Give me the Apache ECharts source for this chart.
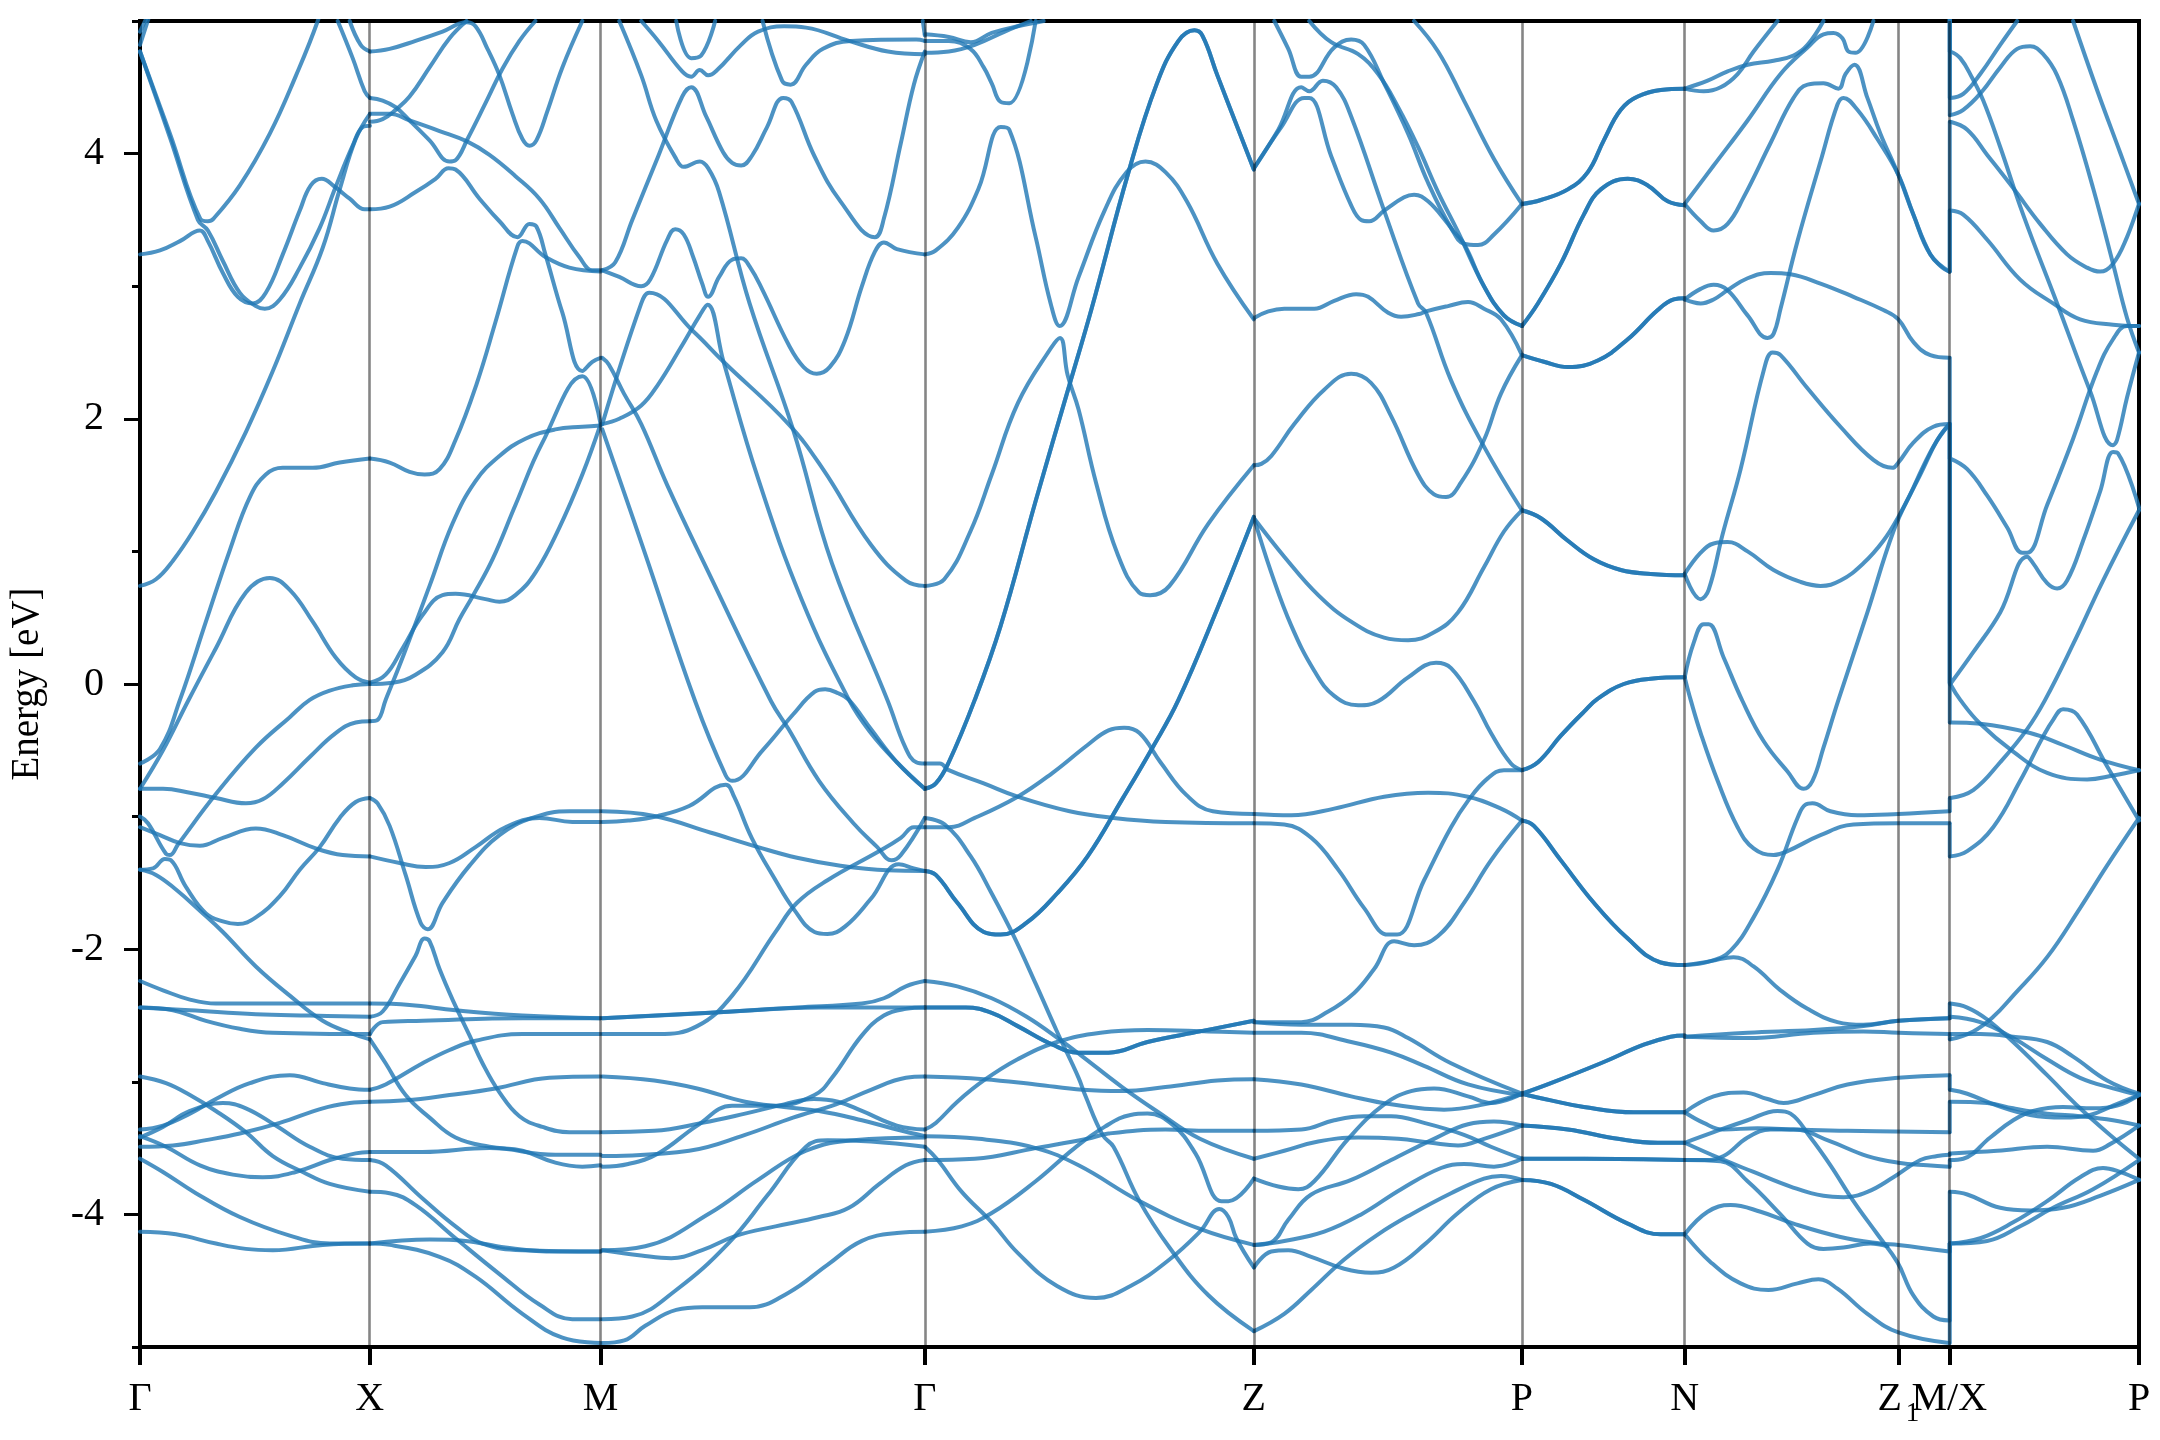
<!DOCTYPE html>
<html><head><meta charset="utf-8">
<style>html,body{margin:0;padding:0;background:#fff}#c{width:2160px;height:1440px}</style>
<script src="https://cdn.jsdelivr.net/npm/echarts@6/dist/echarts.min.js"></script>
</head><body><div id="c"></div>
<script>
const kTicks=[0,230,461.3,786,1115.5,1384,1547,1761,1812,2002];
const kLabels=['Γ','X','M','Γ','Z','P','N','{z|Z}{s|1}','M/X','P'];
const energyLabels=[-4,-2,0,2,4];
const energyMinor=[-5,-3,-1,1,3,5];
const B=(k,e)=>k.map((x,i)=>[x,e[i]]);

const bandsGX=[
B([0,9],[4.82,5.03]),
B([0,7],[4.92,5.03]),
B([0,30,60.3,68,73.7,100,130,156.3,178,185],[4.77,4.15,3.51,3.49,3.51,3.76,4.15,4.59,5,5.2]),
B([0,20,40,60,68,83,98,113,126,143,160,171,182,195,210,225,230.3],[3.24,3.27,3.34,3.42,3.34,3.10,2.92,2.87,2.95,3.24,3.57,3.76,3.81,3.75,3.66,3.58,3.58]),
B([0,30,58,68,83,100,116,125,140,160,180,196,213,223,230.3],[4.77,4.12,3.50,3.42,3.19,2.95,2.85,2.83,2.90,3.14,3.44,3.75,4.06,4.20,4.21]),
B([0,16,33,53,76,106,133,160,183,200,216,230.3],[0.74,0.79,0.93,1.15,1.45,1.90,2.36,2.87,3.29,3.73,4.11,4.30]),
B([0,20,40,66,90,110,126,143,173,200,230.3],[-0.60,-0.49,-0.12,0.47,1.01,1.41,1.58,1.63,1.63,1.67,1.70]),
B([0,23,48,76,106,130,150,173,196,216,230.3],[-0.79,-0.50,-0.13,0.27,0.69,0.80,0.71,0.47,0.20,0.05,0.01]),
B([0,23,50,76,106,123,143,170,196,216,230.3],[-0.79,-0.79,-0.82,-0.86,-0.90,-0.87,-0.75,-0.55,-0.37,-0.29,-0.28]),
B([0,8,26,30,38,76,116,150,170,190,213,230.3],[-1.00,-1.05,-1.28,-1.29,-1.21,-0.83,-0.48,-0.25,-0.12,-0.05,-0.01,0]),
B([0,20,40,60,83,116,143,176,203,230.3],[-1.08,-1.14,-1.20,-1.22,-1.16,-1.09,-1.14,-1.24,-1.29,-1.30]),
B([0,13,25,31,46,66,83,98,116,140,160,180,200,216,230.3],[-1.40,-1.39,-1.32,-1.33,-1.53,-1.73,-1.79,-1.81,-1.76,-1.60,-1.40,-1.23,-1.01,-0.89,-0.86]),
B([0,16,36,60,83,116,150,183,210,230.3],[-1.40,-1.44,-1.55,-1.71,-1.87,-2.13,-2.35,-2.54,-2.63,-2.68]),
B([0,23,50,76,230.3],[-2.24,-2.31,-2.38,-2.41,-2.41]),
B([0,50,116,170,230.3],[-2.44,-2.46,-2.49,-2.50,-2.51]),
B([0,33,66,100,133,230.3],[-2.44,-2.46,-2.54,-2.60,-2.63,-2.64]),
B([0,26,50,76,106,133,163,190,230.3],[-2.96,-3.01,-3.10,-3.22,-3.38,-3.56,-3.68,-3.77,-3.83]),
B([0,23,50,76,110,150,183,210,230.3],[-3.36,-3.33,-3.24,-3.13,-3.01,-2.95,-3.01,-3.05,-3.06]),
B([0,23,50,83,106,136,170,203,230.3],[-3.42,-3.34,-3.22,-3.16,-3.20,-3.33,-3.49,-3.58,-3.59]),
B([0,33,66,100,140,183,210,230.3],[-3.49,-3.48,-3.44,-3.39,-3.31,-3.20,-3.16,-3.15]),
B([0,26,60,93,123,156,190,216,230.3],[-3.41,-3.49,-3.63,-3.70,-3.72,-3.68,-3.59,-3.54,-3.53]),
B([0,23,56,100,150,190,230.3],[-3.58,-3.68,-3.84,-4.02,-4.16,-4.22,-4.22]),
B([0,36,76,106,133,183,230.3],[-4.13,-4.15,-4.22,-4.26,-4.27,-4.23,-4.22]),
B([198,213,225,230.3],[5.0,4.72,4.47,4.42]),
B([210,221,230.3],[5.0,4.82,4.77])
];

const bandsXM=[
B([230.3,250,276,303,327,336,348,360,373,383,390,397,408,423,443],[4.77,4.79,4.85,4.92,4.99,4.96,4.79,4.59,4.30,4.11,4.06,4.10,4.32,4.65,5]),
B([230.3,243,256,270,290,310,316,328,346,363,380,396],[4.42,4.40,4.35,4.25,4.10,3.94,3.95,4.11,4.38,4.64,4.85,5]),
B([230.3,243,256,270,290,310,327],[4.24,4.26,4.33,4.43,4.65,4.87,5]),
B([230.3,250,270,300,328,350,376,400,420,440,453,461.3],[4.30,4.30,4.25,4.17,4.09,3.99,3.83,3.66,3.44,3.22,3.12,3.12]),
B([230.3,250,276,296,309,316,340,360,378,390,397,406,423,443,453,461.3],[3.58,3.60,3.71,3.81,3.89,3.88,3.66,3.49,3.37,3.47,3.45,3.24,2.80,2.36,2.43,2.46]),
B([230.3,250,270,285,300,316,337,356,378,383,406,430,461.3],[1.70,1.67,1.60,1.58,1.62,1.84,2.26,2.73,3.30,3.34,3.22,3.14,3.11]),
B([230.3,246,263,283,303,316,346,360,376,396,420,443,461.3],[0.01,0.07,0.27,0.52,0.67,0.68,0.64,0.62,0.67,0.84,1.18,1.58,1.96]),
B([230.3,253,276,303,320,333,353,376,403,443,461.3],[0,0.01,0.07,0.24,0.49,0.66,0.94,1.35,1.82,2.32,1.96]),
B([230.3,238,246,263,290,313,336,360,386,416,443,461.3],[-0.28,-0.27,-0.12,0.20,0.74,1.21,1.53,1.72,1.85,1.92,1.94,1.95]),
B([230.3,238,250,266,281,288,303,330,360,393,430,461.3],[-0.86,-0.90,-1.07,-1.44,-1.80,-1.85,-1.65,-1.37,-1.14,-1.01,-0.96,-0.96]),
B([230.3,260,286,310,336,366,400,433,461.3],[-1.30,-1.35,-1.38,-1.35,-1.23,-1.08,-1.01,-1.04,-1.04]),
B([230.3,243,260,276,285,290,300,313,330,343,360,380,403,430,461.3],[-2.51,-2.47,-2.26,-2.05,-1.92,-1.94,-2.15,-2.38,-2.65,-2.86,-3.08,-3.26,-3.34,-3.38,-3.38]),
B([230.3,270,316,383,461.3],[-2.41,-2.42,-2.46,-2.50,-2.52]),
B([230.3,243,283,383,461.3],[-2.64,-2.55,-2.54,-2.52,-2.52]),
B([230.3,246,283,310,336,383,461.3],[-3.06,-3.02,-2.86,-2.76,-2.69,-2.64,-2.64]),
B([230.3,266,310,356,410,461.3],[-3.15,-3.14,-3.10,-3.05,-2.97,-2.96]),
B([230.3,246,266,290,316,350,383,416,443,461.3],[-2.68,-2.86,-3.10,-3.27,-3.42,-3.49,-3.52,-3.61,-3.64,-3.63]),
B([230.3,283,350,416,461.3],[-3.53,-3.53,-3.50,-3.55,-3.55]),
B([230.3,246,283,316,343,383,461.3],[-3.59,-3.63,-3.88,-4.09,-4.22,-4.27,-4.28]),
B([230.3,250,276,316,360,400,433,461.3],[-3.83,-3.84,-3.93,-4.18,-4.45,-4.68,-4.79,-4.79]),
B([230.3,250,300,336,383,423,461.3],[-4.22,-4.23,-4.32,-4.47,-4.75,-4.93,-4.97]),
B([230.3,290,326,366,416,461.3],[-4.22,-4.19,-4.20,-4.25,-4.28,-4.28])
];

const bandsMG=[
B([463,480,502,511,528,536,544.6,554,563,569,580,593,602,610.5,623.5,649.5,664.6,677.7,690.7,706,723,736,745,758,786],[3.12,3.07,3.0,3.05,3.35,3.43,3.39,3.22,3.02,2.92,3.07,3.20,3.21,3.15,2.97,2.56,2.39,2.34,2.39,2.59,3.0,3.26,3.33,3.28,3.24]),
B([463,469.5,484.7,502,528,571.4,632,649.5,680,714.5,738.4,752.7,762,786],[2.46,2.41,2.19,1.96,1.50,0.81,-0.13,-0.34,-0.73,-1.05,-1.23,-1.33,-1.29,-1.01]),
B([463,506,556,586.6,593,623.5,654,675.5,686.3,699.3,710,732,758,786],[1.92,0.98,-0.13,-0.69,-0.73,-0.50,-0.23,-0.06,-0.04,-0.07,-0.12,-0.34,-0.59,-0.79]),
B([463,480,502,519,541,560.6,568.4,584.4,619,662.5,710,732,758,786],[1.96,2.0,2.10,2.26,2.53,2.78,2.86,2.43,1.55,0.64,-0.12,-0.37,-0.59,-0.79]),
B([463,476,493,519,543,552,567,584,593,602,612.6,628,644,652.5,675.5,701.5,736,745,762,775,786],[3.12,3.18,3.5,3.98,4.43,4.50,4.28,4.01,3.93,3.91,3.98,4.20,4.42,4.39,3.98,3.64,3.37,3.51,4.08,4.52,4.77]),
B([480,502,517,537,544.5,560.6,569,580,610.5,654,693,749,766.6,777.4,786],[5,4.59,4.25,3.96,3.90,3.94,3.89,3.71,2.87,1.92,0.91,-0.13,-0.48,-0.59,-0.60]),
B([502,519,543,552,560.6,569,578,602,619,645,667,710,749,786],[5,4.85,4.62,4.58,4.63,4.59,4.63,4.82,4.92,4.96,4.95,4.85,4.77,4.75]),
B([537,552,562,576],[5,4.72,4.74,5]),
B([623.5,643,651.6,667,684,712,777.4,786],[5,4.55,4.52,4.67,4.79,4.85,4.86,4.85]),
B([784,786],[5,4.89]),
B([463,502,510,554,584.4,649.5,684,732,767,786],[1.96,2.87,2.95,2.66,2.43,1.96,1.62,1.05,0.78,0.74]),
B([463,515,571,619,658,701.5,749,786],[-0.96,-0.995,-1.12,-1.23,-1.31,-1.37,-1.405,-1.41]),
B([463,489,519,550,586.6,595,612.6,636.5,654,675.5,688.5,706,732,760,775,786],[-1.04,-1.03,-0.995,-0.92,-0.76,-0.85,-1.16,-1.48,-1.69,-1.87,-1.885,-1.83,-1.62,-1.36,-1.39,-1.41]),
B([463,571,658,723,745,767,786],[-2.52,-2.48,-2.44,-2.41,-2.37,-2.28,-2.24]),
B([463,571,680,786],[-2.52,-2.48,-2.44,-2.44]),
B([463,519,558,593,636.5,658,688.5,740.5,762,775,786],[-2.64,-2.64,-2.58,-2.35,-1.87,-1.65,-1.48,-1.26,-1.16,-1.08,-1.08]),
B([463,515,558,606,645,680,723,758,786],[-2.96,-2.99,-3.05,-3.15,-3.19,-3.22,-3.29,-3.36,-3.41]),
B([463,515,563,606,645,675,699,723,758,786],[-3.38,-3.37,-3.31,-3.24,-3.17,-3.13,-3.15,-3.22,-3.33,-3.36]),
B([463,550,606,654,697,732,767,786],[-3.56,-3.52,-3.40,-3.27,-3.17,-3.06,-2.97,-2.96]),
B([463,489,519,558,593,636.5,675.5,693,723,745,767,786],[-3.64,-3.62,-3.54,-3.33,-3.18,-3.18,-3.10,-2.97,-2.65,-2.5,-2.45,-2.44]),
B([463,506,571,619,667,714.5,786],[-4.27,-4.24,-3.99,-3.74,-3.52,-3.44,-3.42]),
B([463,502,532,563,597.4,636.5,680,710,740.5,767,786],[-4.27,-4.31,-4.33,-4.27,-4.16,-4.09,-4.02,-3.95,-3.77,-3.63,-3.59]),
B([463,493,537,589,628,667,688.5,732,786],[-4.79,-4.77,-4.57,-4.22,-3.86,-3.49,-3.44,-3.45,-3.49]),
B([463,485,506,537,563,610.5,649.5,688.5,723,758,786],[-4.97,-4.95,-4.84,-4.72,-4.70,-4.70,-4.59,-4.38,-4.20,-4.14,-4.13])
];

const degenerateGZ=[
B([786,797,810,836,862,897,931,953,990,1018,1040,1056,1064,1079,1115.5],[-0.79,-0.75,-0.59,-0.12,0.44,1.38,2.26,2.83,3.86,4.52,4.85,4.93,4.89,4.59,3.88]),
B([786,797,818.6,845,862,888,918.4,949,983.6,1014,1040,1079,1115.5],[-1.41,-1.44,-1.65,-1.87,-1.89,-1.80,-1.58,-1.30,-0.87,-0.48,-0.12,0.57,1.26]),
B([786,827,853,879,914,940,970,1009,1061.5,1115.5],[-2.44,-2.44,-2.48,-2.58,-2.72,-2.78,-2.78,-2.70,-2.62,-2.54])
];
const bandsGZ=[
B([786,797,819,840,862,870.6,897,912,921,940,966,988,1007,1027,1048.4,1079,1115.5],[3.24,3.27,3.44,3.74,4.20,4.18,3.37,2.87,2.70,3.07,3.57,3.86,3.94,3.86,3.64,3.17,2.75]),
B([786,805.5,831.6,853,879.3,912,921.4,929,940,957.4,979,1000.6,1011.6,1031,1070,1115.5],[0.74,0.79,1.15,1.58,2.12,2.53,2.61,2.33,2.07,1.52,0.98,0.69,0.67,0.74,1.21,1.65]),
B([786,810,831.6,845,853,862,870.6,897],[4.85,4.85,4.79,4.65,4.53,4.39,4.38,5]),
B([786,810,836,866,892],[4.76,4.77,4.82,4.92,5]),
B([786,810,832,853,879,905],[4.9,4.88,4.84,4.91,4.96,5]),
B([786,806,832,853,875,897,918,940,946.5,964,975,1001,1031,1070,1115.5],[-1.01,-1.06,-1.30,-1.58,-1.90,-2.26,-2.615,-2.97,-3.10,-3.40,-3.49,-3.90,-4.25,-4.61,-4.88]),
B([786,801,810,845,879,931,975,1027,1115.5],[-0.60,-0.60,-0.65,-0.75,-0.85,-0.96,-1.01,-1.04,-1.05]),
B([786,810,836,879,914,949,970,985.6,1001,1022,1048.4,1074.4,1115.5],[-1.08,-1.08,-1.01,-0.85,-0.67,-0.46,-0.35,-0.33,-0.37,-0.59,-0.84,-0.96,-0.98]),
B([786,818.6,853,888,922.6,944,983.6,1018,1061.5,1115.5],[-2.24,-2.28,-2.37,-2.51,-2.69,-2.81,-3.04,-3.22,-3.43,-3.58]),
B([786,845,897,944,983.6,1027,1079,1115.5],[-2.96,-2.98,-3.02,-3.06,-3.07,-3.04,-2.99,-2.98]),
B([786,797,818.6,845,879,918.4,962,1009,1070,1115.5],[-3.36,-3.31,-3.15,-2.99,-2.83,-2.70,-2.63,-2.61,-2.62,-2.63]),
B([786,840,897,940,1001,1061.5,1115.5],[-3.41,-3.43,-3.50,-3.63,-3.90,-4.11,-4.23]),
B([786,799,823,853,879,918.4,957.4,992,1031,1061.5,1081,1090,1098,1115.5],[-3.49,-3.59,-3.83,-4.06,-4.29,-4.54,-4.63,-4.54,-4.34,-4.13,-3.96,-4.02,-4.18,-4.40]),
B([786,836,897,949,970,1027,1070,1115.5],[-3.59,-3.58,-3.50,-3.43,-3.39,-3.36,-3.37,-3.37]),
B([786,823,853,897,936,966,992,1009,1035,1057,1083,1090,1115.5],[-4.13,-4.09,-3.99,-3.75,-3.50,-3.34,-3.25,-3.24,-3.33,-3.54,-3.90,-3.90,-3.73])
];

const bandsZP=[
B([1115.7,1140,1163,1171,1184.7,1198,1213,1246,1280,1288,1313,1346,1384],[3.89,4.18,4.50,4.47,4.55,4.50,4.28,3.57,2.87,2.80,2.29,1.79,1.31]),
B([1115.7,1143,1166,1171,1193,1213,1223,1231,1246,1266,1276,1290,1310,1326,1340,1356,1384],[3.89,4.20,4.42,4.42,3.98,3.61,3.50,3.49,3.57,3.67,3.69,3.64,3.47,3.32,3.31,3.39,3.62]),
B([1136,1150,1163,1171,1196,1213,1226,1246,1270,1290,1313,1326,1346,1366,1384],[5,4.79,4.58,4.58,4.80,4.86,4.82,4.53,4.15,3.78,3.44,3.32,3.0,2.78,2.70]),
B([1171,1193,1220,1240,1260,1280,1300,1320,1346,1366,1384],[5,4.84,4.75,4.60,4.35,4.05,3.71,3.41,3.0,2.78,2.70]),
B([1276,1300,1326,1356,1384],[5,4.77,4.40,3.96,3.62]),
B([1115.7,1130,1146,1176,1196,1218,1230,1250,1263,1281,1288,1310,1330,1346,1363,1384],[2.76,2.81,2.83,2.83,2.89,2.94,2.92,2.80,2.77,2.79,2.81,2.85,2.88,2.83,2.75,2.48]),
B([1115.7,1123,1133,1156,1186,1213,1233,1253,1280,1296,1308,1323,1346,1363,1384],[1.65,1.66,1.72,1.96,2.22,2.34,2.27,2.02,1.58,1.43,1.41,1.52,1.84,2.19,2.48]),
B([1115.7,1146,1180,1213,1246,1270,1296,1320,1346,1366,1384],[1.25,0.96,0.67,0.47,0.35,0.33,0.39,0.54,0.88,1.15,1.31]),
B([1115.7,1133,1153,1176,1196,1220,1240,1270,1298,1313,1336,1353,1373,1384],[1.25,0.84,0.44,0.10,-0.09,-0.16,-0.13,0.05,0.16,0.12,-0.13,-0.37,-0.60,-0.65]),
B([1115.7,1153,1196,1246,1290,1330,1363,1384],[-0.98,-0.99,-0.94,-0.85,-0.82,-0.85,-0.94,-1.03]),
B([1115.7,1146,1173,1200,1226,1250,1259,1286,1313,1331,1350,1366,1384],[-1.05,-1.06,-1.16,-1.40,-1.69,-1.89,-1.89,-1.48,-1.08,-0.87,-0.71,-0.65,-0.65]),
B([1115.7,1163,1190,1216,1236,1256,1276,1300,1326,1353,1384],[-2.55,-2.55,-2.47,-2.33,-2.15,-1.94,-1.97,-1.90,-1.65,-1.33,-1.03]),
B([1115.7,1163,1213,1246,1270,1313,1384],[-2.55,-2.57,-2.57,-2.59,-2.67,-2.86,-3.09]),
B([1115.7,1163,1213,1253,1286,1330,1384],[-2.63,-2.63,-2.70,-2.78,-2.88,-3.02,-3.10]),
B([1115.7,1163,1213,1253,1306,1346,1384],[-2.98,-3.02,-3.11,-3.17,-3.21,-3.17,-3.09]),
B([1115.7,1163,1196,1226,1253,1286,1326,1353,1384],[-3.37,-3.36,-3.29,-3.26,-3.26,-3.31,-3.40,-3.49,-3.58]),
B([1115.7,1146,1180,1220,1260,1293,1320,1346,1384],[-3.58,-3.52,-3.45,-3.42,-3.43,-3.46,-3.48,-3.43,-3.33]),
B([1115.7,1140,1160,1176,1210,1246,1273,1296,1330,1353,1384],[-3.73,-3.79,-3.81,-3.75,-3.43,-3.17,-3.07,-3.05,-3.11,-3.16,-3.09]),
B([1115.7,1133,1150,1173,1213,1253,1296,1330,1356,1384],[-4.23,-4.21,-4.04,-3.85,-3.74,-3.59,-3.43,-3.32,-3.30,-3.33]),
B([1115.7,1146,1186,1223,1263,1303,1326,1356,1384],[-4.23,-4.20,-4.13,-4.00,-3.81,-3.65,-3.62,-3.64,-3.58]),
B([1115.7,1133,1150,1173,1206,1233,1256,1286,1320,1353,1384],[-4.40,-4.28,-4.27,-4.32,-4.41,-4.44,-4.40,-4.23,-3.99,-3.81,-3.74]),
B([1115.7,1146,1173,1206,1240,1273,1313,1346,1363,1384],[-4.88,-4.75,-4.57,-4.34,-4.15,-4.00,-3.84,-3.73,-3.71,-3.74])
];

const degeneratePN=[
B([1384,1403,1430,1450,1466,1483,1500,1523,1547],[3.62,3.65,3.73,3.86,4.10,4.33,4.43,4.48,4.49]),
B([1384,1400,1423,1446,1463,1490,1510,1530,1547],[2.70,2.87,3.17,3.54,3.73,3.81,3.76,3.64,3.61]),
B([1384,1406,1430,1460,1490,1520,1536,1547],[2.48,2.43,2.39,2.44,2.60,2.82,2.90,2.91]),
B([1384,1403,1430,1456,1483,1513,1547],[1.31,1.25,1.08,0.94,0.86,0.83,0.82]),
B([1384,1400,1423,1446,1460,1486,1513,1547],[-0.65,-0.59,-0.39,-0.21,-0.11,0,0.04,0.05]),
B([1384,1396,1423,1456,1490,1523,1547],[-1.03,-1.07,-1.33,-1.65,-1.92,-2.10,-2.12]),
B([1384,1413,1463,1506,1533,1547],[-3.09,-3.01,-2.86,-2.72,-2.66,-2.65]),
B([1384,1413,1446,1496,1547],[-3.09,-3.14,-3.19,-3.23,-3.23]),
B([1384,1430,1480,1520,1547],[-3.33,-3.36,-3.43,-3.46,-3.46]),
B([1384,1446,1547],[-3.58,-3.58,-3.59]),
B([1384,1413,1446,1490,1523,1547],[-3.74,-3.77,-3.89,-4.07,-4.15,-4.15])
];

const bandsNZ=[
B([1547,1566,1583,1600,1616,1640],[4.49,4.47,4.50,4.60,4.77,5]),
B([1547,1570,1590,1610,1636,1656,1670,1686],[4.49,4.55,4.62,4.67,4.70,4.74,4.82,5]),
B([1547,1576,1610,1643,1670,1686,1696,1705,1711,1718,1736],[3.62,3.91,4.25,4.60,4.80,4.90,4.91,4.87,4.77,4.76,5]),
B([1547,1563,1576,1590,1606,1633,1656,1670,1686,1701,1708,1717,1730,1743,1761,1776,1793,1805,1812],[3.62,3.49,3.42,3.47,3.67,4.08,4.42,4.52,4.53,4.49,4.60,4.67,4.42,4.15,3.84,3.54,3.24,3.14,3.11]),
B([1547,1563,1576,1590,1610,1633,1653,1683,1716,1746,1761,1776,1793,1812],[2.90,2.87,2.90,2.97,3.06,3.10,3.09,3.02,2.92,2.82,2.75,2.58,2.48,2.46]),
B([1547,1563,1576,1590,1610,1630,1636,1643,1660,1683,1700,1706,1720,1740,1761,1776,1793,1812],[2.90,2.98,3.01,2.97,2.78,2.61,2.64,2.83,3.34,3.94,4.37,4.42,4.33,4.11,3.84,3.54,3.24,3.11]),
B([1547,1563,1576,1590,1610,1636,1663,1683,1703,1726,1746,1761,1783,1800,1812],[0.83,0.99,1.06,1.07,1.0,0.86,0.77,0.74,0.78,0.91,1.08,1.26,1.58,1.84,1.96]),
B([1547,1563,1571,1585,1603,1626,1635,1643,1670,1703,1736,1755,1761,1776,1796,1812],[0.83,0.64,0.71,1.13,1.62,2.36,2.50,2.48,2.23,1.94,1.69,1.63,1.67,1.82,1.94,1.96]),
B([1547,1553,1563,1580,1600,1616,1636,1650,1683,1716,1761,1812],[0.05,-0.12,-0.37,-0.73,-1.08,-1.24,-1.29,-1.26,-1.14,-1.06,-1.05,-1.05]),
B([1547,1556,1566,1571,1586,1605,1626,1650,1666,1675,1686,1701,1730,1756,1776,1796,1812],[0.05,0.31,0.45,0.45,0.2,-0.13,-0.43,-0.66,-0.79,-0.73,-0.48,-0.12,0.54,1.15,1.48,1.79,1.96]),
B([1547,1573,1596,1616,1643,1670,1700,1726,1761,1812],[-2.12,-2.09,-2.06,-2.13,-2.31,-2.45,-2.55,-2.57,-2.54,-2.52]),
B([1547,1573,1593,1616,1640,1660,1668,1675,1693,1720,1761,1812],[-2.12,-2.09,-2.01,-1.76,-1.40,-1.01,-0.91,-0.90,-0.96,-0.99,-0.98,-0.96]),
B([1547,1610,1676,1726,1761,1812],[-2.66,-2.67,-2.63,-2.62,-2.63,-2.64]),
B([1547,1610,1676,1726,1761,1812],[-2.66,-2.63,-2.61,-2.58,-2.54,-2.52]),
B([1547,1576,1606,1630,1646,1676,1710,1761,1812],[-3.23,-3.11,-3.08,-3.13,-3.16,-3.10,-3.02,-2.97,-2.95]),
B([1547,1566,1586,1620,1660,1710,1812],[-3.23,-3.31,-3.36,-3.35,-3.36,-3.37,-3.38]),
B([1547,1576,1610,1640,1653,1673,1693,1716,1740,1760,1776,1796,1812],[-3.46,-3.38,-3.29,-3.22,-3.24,-3.42,-3.63,-3.90,-4.15,-4.36,-4.61,-4.77,-4.80]),
B([1547,1583,1616,1653,1686,1706,1730,1756,1783,1800,1812],[-3.46,-3.58,-3.68,-3.79,-3.86,-3.87,-3.83,-3.72,-3.59,-3.56,-3.55]),
B([1547,1566,1586,1610,1633,1656,1693,1730,1761,1790,1812],[-3.59,-3.59,-3.56,-3.42,-3.36,-3.36,-3.45,-3.56,-3.61,-3.63,-3.64]),
B([1547,1583,1610,1643,1670,1686,1706,1733,1750],[-3.59,-3.60,-3.75,-4.0,-4.22,-4.26,-4.25,-4.22,-4.24]),
B([1547,1570,1593,1623,1656,1703,1743,1761,1812],[-4.15,-3.98,-3.93,-3.98,-4.07,-4.17,-4.22,-4.23,-4.28]),
B([1547,1573,1603,1631,1660,1681,1700,1730,1761,1812],[-4.15,-4.36,-4.52,-4.57,-4.52,-4.49,-4.56,-4.75,-4.89,-4.97])
];

const jumpAtMX=[[5.3,4.77],[5.3,4.42],[5.3,4.29],[3.11,4.24],[3.11,3.57],[2.46,1.70],[1.96,0.01],[1.96,0],[1.96,-0.29],[-0.96,-0.86],[-1.05,-1.30],[-2.52,-2.41],[-2.52,-2.51],[-2.64,-2.68],[-2.95,-3.06],[-3.38,-3.15],[-3.55,-3.54],[-3.64,-3.59],[-4.28,-3.83],[-4.28,-4.22],[-4.80,-4.22],[-4.97,-4.22]];

const bandsXP=[
B([1813,1823,1835,1846,1863,1886,1920,1953,1976,1980,1990,2002],[4.77,4.72,4.57,4.40,4.05,3.54,2.87,2.21,1.80,1.84,2.16,2.50]),
B([1813,1826,1843,1863,1880],[4.42,4.45,4.60,4.82,5]),
B([1813,1826,1845,1863,1880,1893,1906,1920,1936,1956,1976,1990,2002],[4.29,4.33,4.47,4.65,4.79,4.81,4.75,4.59,4.25,3.74,3.17,2.76,2.50]),
B([1813,1830,1850,1876,1903,1930,1950,1963,1976,1990,2002],[4.24,4.18,3.99,3.74,3.47,3.24,3.14,3.11,3.17,3.37,3.62]),
B([1813,1826,1850,1883,1916,1943,1976,2002],[3.57,3.54,3.35,3.05,2.87,2.75,2.71,2.70]),
B([1936,1960,1983,2002],[5,4.48,4.01,3.62]),
B([1813,1830,1850,1870,1885,1890,1910,1936,1960,1976,1990,2002],[1.70,1.62,1.42,1.18,0.99,0.99,1.35,1.85,2.36,2.60,2.70,2.70]),
B([1813,1836,1863,1890,1896,1910,1920,1930,1946,1963,1976,1981,2002],[0,0.24,0.54,0.96,0.91,0.76,0.72,0.78,1.08,1.45,1.75,1.74,1.33]),
B([1813,1836,1863,1890,1908,1936,1966,2002],[-0.86,-0.80,-0.59,-0.34,-0.12,0.30,0.78,1.31]),
B([1813,1830,1856,1883,1905,1916,1926,1940,1970,2002],[-1.30,-1.26,-1.08,-0.73,-0.41,-0.27,-0.19,-0.23,-0.62,-1.03]),
B([1813,1843,1893,1926,1963,2002],[-0.29,-0.30,-0.37,-0.46,-0.57,-0.65]),
B([1813,1823,1843,1876,1910,1950,1976,2002],[0,-0.12,-0.30,-0.51,-0.67,-0.72,-0.69,-0.65]),
B([1813,1836,1856,1876,1910,1943,1970,2002],[-2.68,-2.62,-2.51,-2.35,-2.06,-1.69,-1.37,-1.01]),
B([1813,1830,1850,1876,1910,1943,1976,2002],[-2.41,-2.44,-2.53,-2.70,-2.95,-3.20,-3.42,-3.58]),
B([1813,1843,1876,1910,1943,1976,2002],[-2.51,-2.55,-2.67,-2.83,-2.97,-3.05,-3.10]),
B([1813,1843,1876,1910,1936,1970,2002],[-2.64,-2.64,-2.66,-2.70,-2.81,-2.99,-3.09]),
B([1813,1830,1860,1893,1926,1953,1976,2002],[-3.06,-3.09,-3.18,-3.25,-3.27,-3.25,-3.18,-3.10]),
B([1813,1850,1876,1910,1943,1976,2002],[-3.15,-3.16,-3.2,-3.24,-3.26,-3.29,-3.33]),
B([1813,1826,1853,1876,1896,1926,1956,1980,2002],[-3.59,-3.58,-3.42,-3.29,-3.22,-3.19,-3.20,-3.18,-3.10]),
B([1813,1860,1910,1956,1973,2002],[-3.54,-3.52,-3.49,-3.52,-3.47,-3.33]),
B([1813,1830,1863,1893,1926,1963,2002],[-3.83,-3.85,-3.95,-3.97,-3.95,-3.86,-3.74]),
B([1813,1843,1876,1910,1943,1966,1983,2002],[-4.22,-4.18,-4.06,-3.90,-3.72,-3.65,-3.68,-3.74]),
B([1813,1850,1883,1916,1956,2002],[-4.22,-4.20,-4.09,-3.95,-3.81,-3.59])
];

const lineColor='rgba(31,119,180,0.8)';
const bandSeries=d=>({type:'line',data:d,showSymbol:false,symbol:'none',smooth:0.42,animation:false,silent:true,
  lineStyle:{color:lineColor,width:4,cap:'round',join:'round'},z:3});
const all=[...bandsGX,...bandsXM,...bandsMG,...degenerateGZ,...degenerateGZ,...bandsGZ,...bandsZP,
  ...degeneratePN,...degeneratePN,...bandsNZ,...bandsXP,...jumpAtMX.map(p=>[[1812.5,p[0]],[1812.5,p[1]]])];
const series=all.map(bandSeries);
series.push({type:'line',data:[],symbol:'none',silent:true,animation:false,z:4,
  markLine:{silent:true,symbol:'none',animation:false,label:{show:false},
    lineStyle:{color:'rgba(0,0,0,0.48)',width:2.6,type:'solid'},
    data:kTicks.slice(1,-1).map(v=>({xAxis:v}))}});
const font='"Liberation Serif","Times New Roman",serif';
const chart=echarts.init(document.getElementById('c'),null,{width:2160,height:1440,renderer:'canvas'});
chart.setOption({
  animation:false,backgroundColor:'#fff',
  grid:{left:137,right:21,top:21,bottom:93,show:true,borderColor:'#000',borderWidth:4,backgroundColor:'transparent',containLabel:false},
  xAxis:{type:'value',min:0,max:2002,splitLine:{show:false},
    axisLine:{show:true,onZero:false,lineStyle:{color:'#000',width:4}},
    axisTick:{show:true,length:18,inside:false,customValues:kTicks,lineStyle:{color:'#000',width:4}},
    axisLabel:{show:true,customValues:kTicks,margin:32,color:'#000',fontFamily:font,fontSize:40,
      formatter:v=>kLabels[kTicks.indexOf(v)],
      rich:{z:{fontFamily:font,fontSize:40,color:'#000',verticalAlign:'top'},s:{fontFamily:font,fontSize:27,color:'#000',verticalAlign:'top',padding:[21,0,0,4]}}}},
  yAxis:[
   {type:'value',min:-5,max:5,position:'left',splitLine:{show:false},
    name:'Energy [eV]',nameLocation:'middle',nameGap:93,nameRotate:90,
    nameTextStyle:{fontFamily:font,fontSize:39,color:'#000'},
    axisLine:{show:true,onZero:false,lineStyle:{color:'#000',width:4}},
    axisTick:{show:true,length:16,customValues:energyLabels,lineStyle:{color:'#000',width:3}},
    axisLabel:{show:true,customValues:energyLabels,margin:36,color:'#000',fontFamily:font,fontSize:40,formatter:v=>String(v)}},
   {type:'value',min:-5,max:5,position:'left',splitLine:{show:false},
    axisLine:{show:false,onZero:false},
    axisTick:{show:true,length:8,customValues:energyMinor,lineStyle:{color:'#000',width:3}},
    axisLabel:{show:false}}
  ],
  series
});
</script></body></html>
